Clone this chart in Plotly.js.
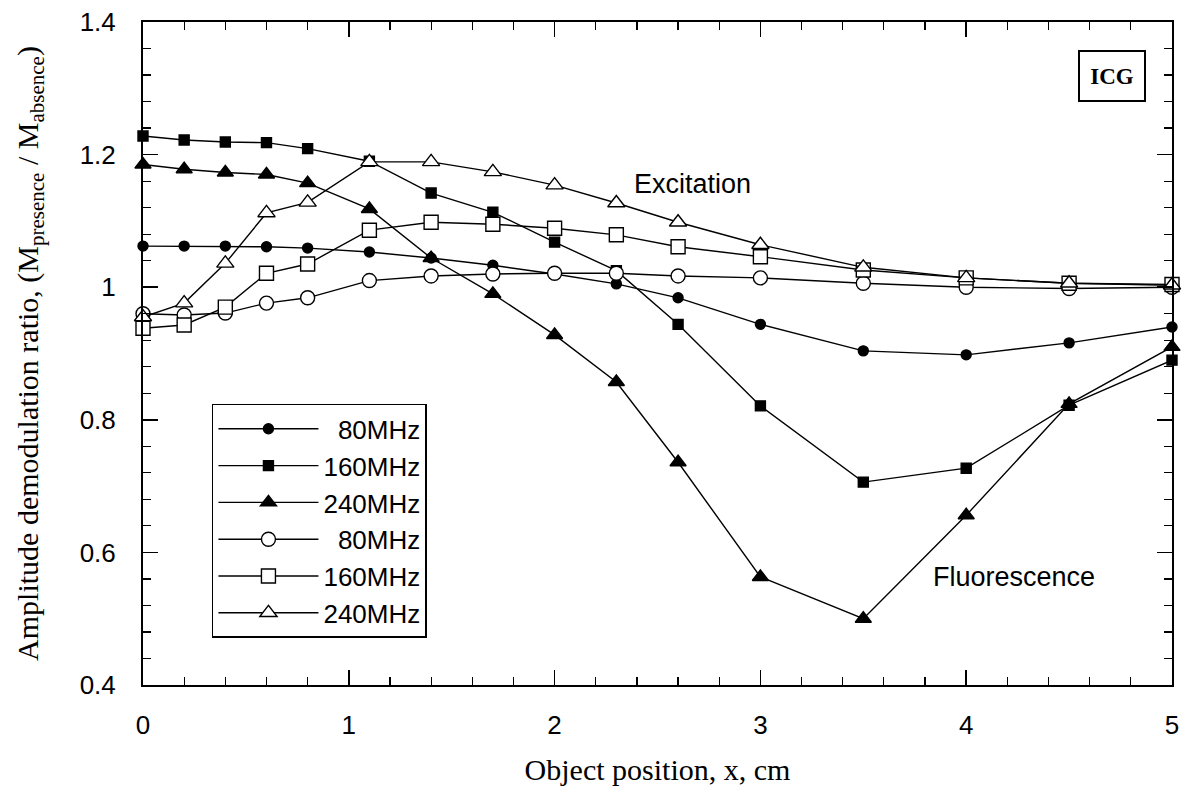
<!DOCTYPE html>
<html>
<head>
<meta charset="utf-8">
<script src="https://cdn.plot.ly/plotly-3.0.1.min.js"></script>
<style>
  html, body { margin: 0; padding: 0; background: #fff; }
  #chart { width: 1189px; height: 801px; }
</style>
</head>
<body>
<div id="chart"></div>
<script>
// Object positions (cm)
const positions = [0, 0.2, 0.4, 0.6, 0.8, 1.1, 1.4, 1.7, 2.0, 2.3, 2.6, 3.0, 3.5, 4.0, 4.5, 5.0];

// Fluorescence amplitude demodulation ratio
const fluor80  = [1.062, 1.062, 1.062, 1.061, 1.059, 1.053, 1.044, 1.033, 1.020, 1.005, 0.984, 0.944, 0.904, 0.898, 0.916, 0.940];
const fluor160 = [1.228, 1.222, 1.219, 1.218, 1.209, 1.190, 1.142, 1.113, 1.068, 1.025, 0.944, 0.821, 0.706, 0.727, 0.822, 0.890];
const fluor240 = [1.185, 1.178, 1.173, 1.170, 1.157, 1.118, 1.044, 0.990, 0.928, 0.857, 0.736, 0.563, 0.500, 0.656, 0.824, 0.910];

// Excitation amplitude demodulation ratio
const excit80  = [0.960, 0.958, 0.961, 0.976, 0.984, 1.010, 1.017, 1.020, 1.021, 1.021, 1.017, 1.014, 1.006, 1.000, 0.998, 1.000];
const excit160 = [0.938, 0.943, 0.970, 1.021, 1.035, 1.086, 1.098, 1.095, 1.089, 1.079, 1.061, 1.046, 1.026, 1.014, 1.006, 1.004];
const excit240 = [0.955, 0.976, 1.036, 1.112, 1.128, 1.189, 1.189, 1.174, 1.154, 1.127, 1.098, 1.064, 1.030, 1.014, 1.006, 1.003];

const legendNames = ['\u200780MHz', '160MHz', '240MHz', '\u200780MHz', '160MHz', '240MHz'];

const sansFont = 'Liberation Sans, Arial, Helvetica, sans-serif';
const serifFont = 'Liberation Serif, Times New Roman, serif';

function series(y, name, symbol, size, filled) {
  return {
    x: positions,
    y: y,
    name: name,
    type: 'scatter',
    mode: 'lines+markers',
    line: { color: '#000', width: 1.4 },
    marker: {
      symbol: symbol,
      size: size,
      color: filled ? '#000' : '#fff',
      line: { color: '#000', width: 1.4 }
    },
    cliponaxis: false
  };
}

const traces = [
  series(fluor80,  legendNames[0], 'circle',      10, true),
  series(fluor160, legendNames[1], 'square',      10, true),
  series(fluor240, legendNames[2], 'triangle-up', 14, true),
  series(excit80,  legendNames[3], 'circle',      14, false),
  series(excit160, legendNames[4], 'square',      14, false),
  series(excit240, legendNames[5], 'triangle-up', 15, false)
];

const layout = {
  width: 1189,
  height: 801,
  margin: { l: 143, r: 17, t: 22, b: 116 },
  paper_bgcolor: '#fff',
  plot_bgcolor: '#fff',
  showlegend: true,
  legend: {
    x: 0.067, y: 0.424, xanchor: 'left', yanchor: 'top',
    bgcolor: '#fff',
    bordercolor: '#000',
    borderwidth: 1.5,
    font: { family: sansFont, size: 26, color: '#000' },
    tracegroupgap: 0,
    itemwidth: 100
  },
  xaxis: {
    range: [0, 5],
    dtick: 1,
    tick0: 0,
    ticks: 'inside',
    ticklen: 15,
    tickwidth: 1.5,
    tickcolor: '#000',
    minor: { dtick: 0.2, ticks: 'inside', ticklen: 8, tickwidth: 1.2, tickcolor: '#000' },
    showline: true,
    linewidth: 2,
    linecolor: '#000',
    mirror: 'ticks',
    showgrid: false,
    zeroline: false,
    ticklabelstandoff: 16,
    tickfont: { family: sansFont, size: 26, color: '#000' },
    title: {
      text: 'Object position, x, cm',
      font: { family: serifFont, size: 30, color: '#000' },
      standoff: 20
    }
  },
  yaxis: {
    range: [0.4, 1.4],
    dtick: 0.2,
    tick0: 0.4,
    ticks: 'inside',
    ticklen: 15,
    tickwidth: 1.5,
    tickcolor: '#000',
    minor: { dtick: 0.04, ticks: 'inside', ticklen: 8, tickwidth: 1.2, tickcolor: '#000' },
    showline: true,
    linewidth: 2,
    linecolor: '#000',
    mirror: 'ticks',
    showgrid: false,
    zeroline: false,
    ticklabelstandoff: 20,
    tickfont: { family: sansFont, size: 26, color: '#000' },
    title: {
      text: 'Amplitude demodulation ratio, (M<sub>presence</sub> / M<sub>absence</sub>)',
      font: { family: serifFont, size: 30, color: '#000' },
      standoff: 32
    }
  },
  annotations: [
    {
      x: 2.67, y: 1.156, xref: 'x', yref: 'y',
      text: 'Excitation', showarrow: false,
      font: { family: sansFont, size: 27, color: '#000' }
    },
    {
      x: 4.23, y: 0.563, xref: 'x', yref: 'y',
      text: 'Fluorescence', showarrow: false,
      font: { family: sansFont, size: 27, color: '#000' }
    },
    {
      x: 4.71, y: 1.319, xref: 'x', yref: 'y',
      text: '<b>ICG</b>', showarrow: false,
      font: { family: serifFont, size: 23, color: '#000' },
      bgcolor: '#fff',
      bordercolor: '#000',
      borderwidth: 2,
      width: 62,
      height: 46
    }
  ]
};

Plotly.newPlot('chart', traces, layout, { staticPlot: true, displayModeBar: false });
</script>
</body>
</html>
